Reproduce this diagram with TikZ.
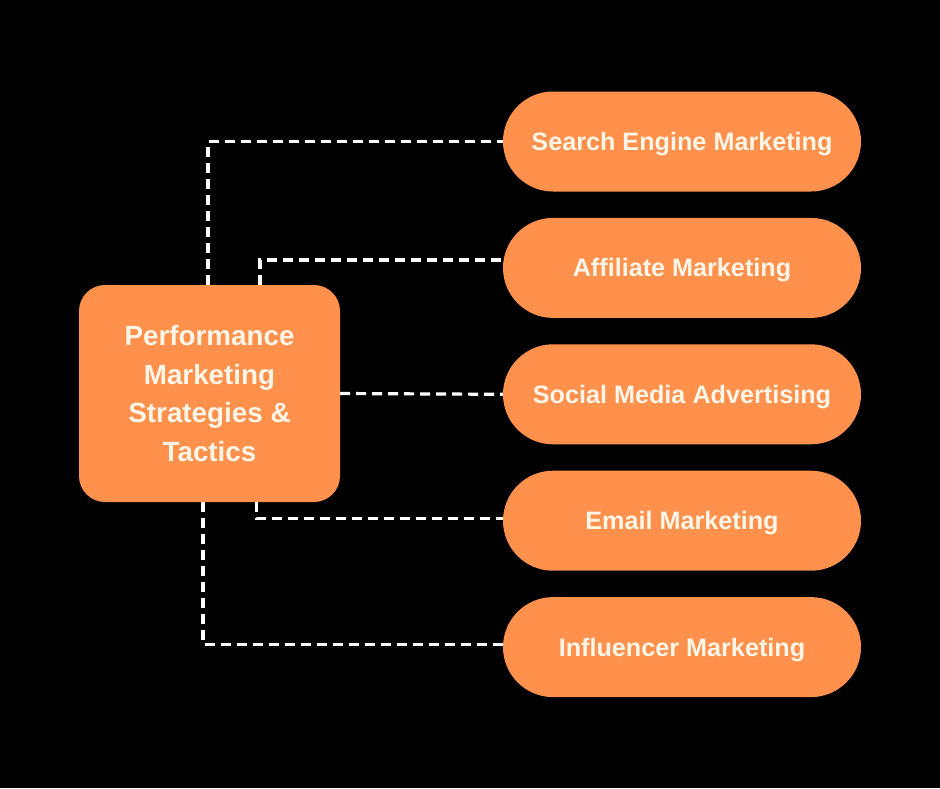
\documentclass[tikz,border=0pt]{standalone}
\usepackage{fontspec}
\setmainfont{Liberation Sans}
\usetikzlibrary{positioning}
\definecolor{pillorange}{RGB}{255,145,77}
\definecolor{creamtext}{RGB}{255,246,232}

\begin{document}
\begin{tikzpicture}[
    x=1pt, y=-1pt,
    node distance=26pt,
    hubbox/.style={rectangle, rounded corners=26pt, fill=pillorange, minimum width=261pt, minimum height=217pt, align=center, text=creamtext, font=\fontsize{27.8}{38.5}\selectfont\bfseries},
    pillbox/.style={rectangle, rounded corners=50pt, fill=pillorange, minimum width=358pt, minimum height=100pt, text height=18pt, text depth=0pt, text=creamtext, font=\fontsize{25.2}{30}\selectfont\bfseries},
    link/.style={draw=white, line width=3.2pt, dash pattern=on 10pt off 6pt}
]

% Background
\fill[black] (0,0) rectangle (940,788);

% Hub
\node[hubbox] (hub) at (209.5,393.5) {Performance\\Marketing\\Strategies \&\\Tactics};

% Channels
\node[pillbox] (sem) at (682,141.5) {Search Engine Marketing};
\node[pillbox, below=26pt of sem] (affil) {Affiliate Marketing};
\node[pillbox, below=26pt of affil] (social) {Social Media Advertising};
\node[pillbox, below=26pt of social] (email) {Email Marketing};
\node[pillbox, below=26pt of email] (influ) {Influencer Marketing};

% Connectors
\draw[link] ([xshift=-1.5pt]hub.north) |- (sem.west);
\draw[link] ([xshift=50.5pt]hub.north) |- ([yshift=8pt]affil.west);
\draw[link] (hub.east) -- (social.west);
\draw[link] ([xshift=47pt]hub.south) |- ([yshift=2pt]email.west);
\draw[link] ([xshift=-6.5pt]hub.south) |- ([yshift=3pt]influ.west);

\end{tikzpicture}
\end{document}
